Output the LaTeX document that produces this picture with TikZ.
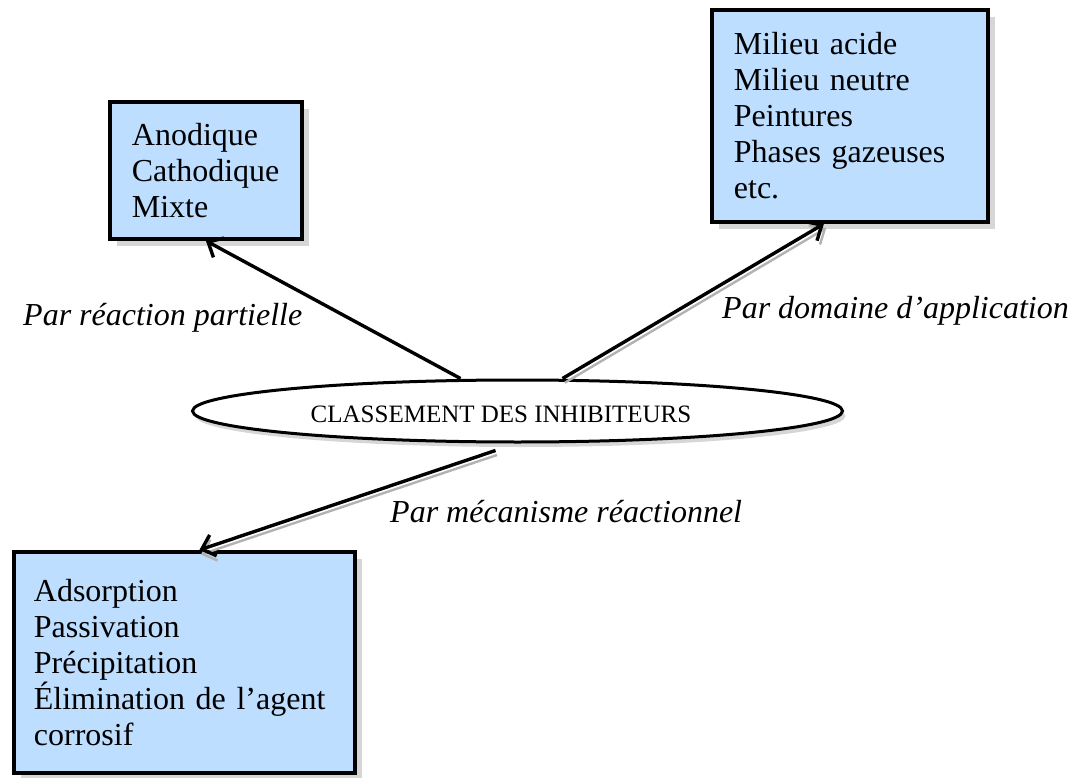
\documentclass[tikz,border=0pt]{standalone}
\usepackage{fontspec}
\setmainfont{Liberation Serif}
\usetikzlibrary{shapes.geometric,arrows.meta,shadows}
\definecolor{boxblue}{RGB}{189,222,255}
\definecolor{shade}{RGB}{214,214,214}
\begin{document}
\begin{tikzpicture}[x=1pt,y=-1pt,
  infobox/.style={rectangle, draw=black, line width=3.8pt, fill=boxblue,
    anchor=north west, align=left, inner ysep=0pt,
    font=\fontsize{32}{36}\selectfont,
    drop shadow={shadow xshift=7pt, shadow yshift=-7pt, fill=shade, opacity=1}},
  hub/.style={ellipse, draw=black, line width=3pt, fill=white, inner sep=0pt,
    drop shadow={shadow xshift=3pt, shadow yshift=-5pt, fill=shade, opacity=1}},
  lbl/.style={anchor=base west, inner sep=0pt, font=\fontsize{32}{36}\selectfont\itshape},
  link/.style={line width=3.4pt, -{Straight Barb[length=12pt,width=22pt]}},
  linkshade/.style={line width=2.4pt, draw=gray!60, -{Straight Barb[length=12pt,width=22pt]}}
]
\useasboundingbox (0,0) rectangle (1079,778);

% category boxes
\node[infobox, minimum width=192pt, minimum height=137pt, text width=148pt, inner xsep=22pt]
  (partial) at (108,100) {Anodique\\Cathodique\\Mixte};
\node[infobox, minimum width=276pt, minimum height=212pt, text width=232pt, inner xsep=22pt]
  (domain) at (710,8) {Milieu acide\\Milieu neutre\\Peintures\\Phases gazeuses\\etc.};
\node[infobox, minimum width=341pt, minimum height=221pt, text width=301pt, inner xsep=20pt]
  (mechanism) at (12,550) {Adsorption\\Passivation\\Précipitation\\Élimination de l’agent\\corrosif};

% central ellipse
\node[hub, minimum width=650pt, minimum height=62pt] (cls) at (517.5,411) {};
\node[inner sep=0pt, font=\fontsize{25}{30}\selectfont] (clstext) at (501,414) {CLASSEMENT DES INHIBITEURS};

% connectors
\draw[link] ([xshift=-57pt]cls.north) -- (partial.south);

\draw[linkshade, transform canvas={xshift=2.4pt, yshift=-4.2pt}]
  ([xshift=45pt]cls.north) -- ([xshift=-26pt]domain.south);
\draw[link] ([xshift=45pt]cls.north) -- ([xshift=-26pt]domain.south);

\draw[linkshade, transform canvas={xshift=1.5pt, yshift=-4.5pt}]
  ([xshift=-22pt,yshift=-7pt]cls.south) -- ([xshift=15pt]mechanism.north);
\draw[link] ([xshift=-22pt,yshift=-7pt]cls.south) -- ([xshift=15pt]mechanism.north);

% connector labels
\node[lbl] (lpartial) at (23,325) {Par réaction partielle};
\node[lbl] (ldomain) at (722,318) {Par domaine d’application};
\node[lbl] (lmechanism) at (390,522) {Par mécanisme réactionnel};
\end{tikzpicture}
\end{document}
